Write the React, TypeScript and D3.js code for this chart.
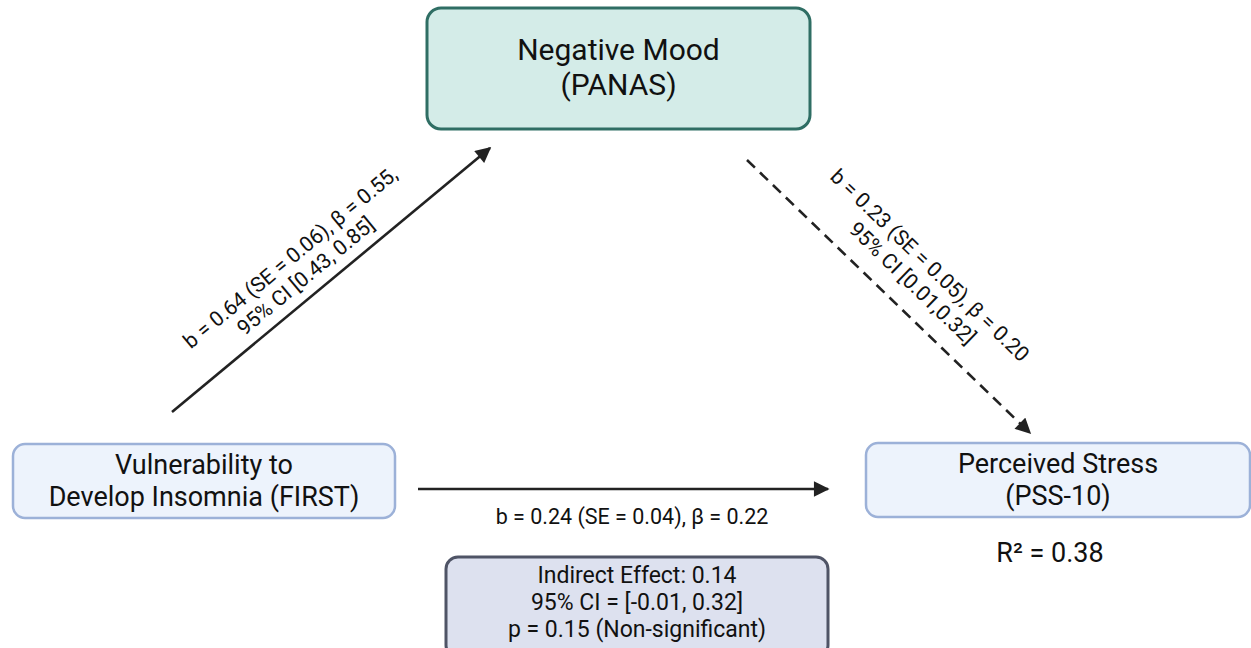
import React from "react";
import * as d3 from "d3";

const W = 1251;
const H = 648;

// node boxes: [x, y, w, h]
const nodeIds = ["mediator", "predictor", "outcome", "indirect"];
const nodeRects = [
  [427, 8, 383, 121],
  [13, 444, 382, 74],
  [866, 443, 384, 74],
  [446, 557, 382, 100],
];
const nodeFills = ["#d4ece8", "#edf3fc", "#edf3fc", "#dde1ef"];
const nodeStrokes = ["#2f6e64", "#9cb1d8", "#9cb1d8", "#4f5466"];
const nodeLines = [
  ["Negative Mood", "(PANAS)"],
  ["Vulnerability to", "Develop Insomnia (FIRST)"],
  ["Perceived Stress", "(PSS-10)"],
  ["Indirect Effect: 0.14", "95% CI = [-0.01, 0.32]", "p = 0.15 (Non-significant)"],
];
const nodeFontSizes = [30, 27, 27, 23];
const nodeFirstBaseline = [60, 474, 473, 583];
const nodeLineGap = [35, 32, 32, 27];

// paths: from -> to
const pathIds = ["a", "b", "c"];
const pathFrom = [[172, 412], [747, 160], [418, 489]];
const pathTo = [[490, 148], [1030, 433], [828, 489]];
const pathDashed = [false, true, false];
const pathLabels = [
  ["b = 0.64 (SE = 0.06), β = 0.55,", "95% CI [0.43, 0.85]"],
  ["b = 0.23 (SE = 0.05), β = 0.20", "95% CI [0.01,0.32]"],
  ["b = 0.24 (SE = 0.04), β = 0.22"],
];
// label offset in the line's own frame (along, across) for first line
const labelOffset = [[-17, -43], [8, -51], [9, 27]];
const labelGap = [24, 25, 0];
const labelSize = [21, 21, 21.5];

const rSquared = "R² = 0.38";

const FONT = "Roboto, 'Noto Sans', sans-serif";

export default function App() {
  const line = d3.line();
  return (
    <svg
      width={W}
      height={H}
      style={{ position: "absolute", left: 0, top: 0, background: "#fff" }}
      fontFamily={FONT}
    >
      <defs>
        <marker
          id="head"
          viewBox="0 0 10 10"
          refX={9}
          refY={5}
          markerWidth={6.5}
          markerHeight={6}
          markerUnits="strokeWidth"
          orient="auto"
        >
          <path d="M0,0 L10,5 L0,10 Z" fill="#222" />
        </marker>
      </defs>

      {nodeIds.map((id, i) => {
        const [x, y, w, h] = nodeRects[i];
        const cx = x + w / 2;
        return (
          <g key={id}>
            <rect
              x={x}
              y={y}
              width={w}
              height={h}
              rx={i === 0 ? 14 : 12}
              fill={nodeFills[i]}
              stroke={nodeStrokes[i]}
              strokeWidth={i === 0 || i === 3 ? 3 : 2.5}
            />
            {nodeLines[i].map((t, j) => (
              <text
                key={j}
                x={cx}
                y={nodeFirstBaseline[i] + j * nodeLineGap[i]}
                textAnchor="middle"
                fontSize={nodeFontSizes[i]}
                fill="#111"
              >
                {t}
              </text>
            ))}
          </g>
        );
      })}

      {pathIds.map((id, i) => {
        const [x0, y0] = pathFrom[i];
        const [x1, y1] = pathTo[i];
        const ang = (Math.atan2(y1 - y0, x1 - x0) * 180) / Math.PI;
        const mx = (x0 + x1) / 2;
        const my = (y0 + y1) / 2;
        const [ox, oy] = labelOffset[i];
        return (
          <g key={id}>
            <path
              d={line([pathFrom[i] as [number, number], pathTo[i] as [number, number]]) || ""}
              stroke="#222"
              strokeWidth={2.6}
              fill="none"
              strokeDasharray={pathDashed[i] ? "11,7" : undefined}
              markerEnd="url(#head)"
            />
            <g transform={`translate(${mx},${my}) rotate(${ang})`}>
              {pathLabels[i].map((t, j) => (
                <text
                  key={j}
                  x={ox}
                  y={oy + j * labelGap[i]}
                  textAnchor="middle"
                  dominantBaseline="central"
                  fontSize={labelSize[i]}
                  fill="#111"
                >
                  {t}
                </text>
              ))}
            </g>
          </g>
        );
      })}

      <text x={1050} y={562} textAnchor="middle" fontSize={27} fill="#111">
        {rSquared}
      </text>
    </svg>
  );
}
